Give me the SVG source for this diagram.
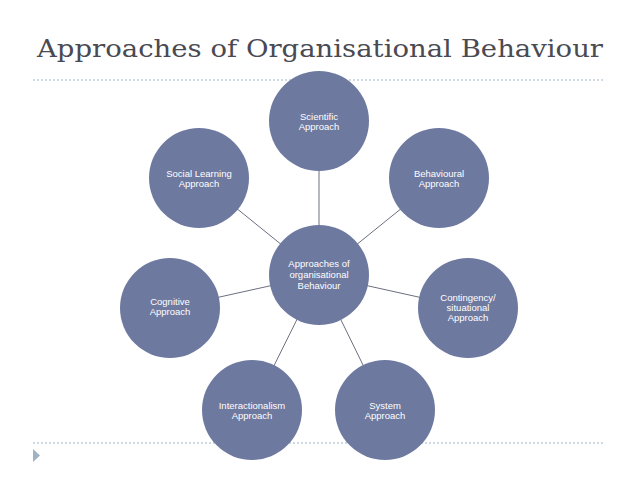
<svg xmlns="http://www.w3.org/2000/svg" width="638" height="479" viewBox="0 0 638 479">
<style>
.n{fill:#6e79a0}
.t{fill:#fff;font-family:"Liberation Sans",Arial,sans-serif;font-size:9.5px;text-anchor:middle}
.c{stroke:#6b7080;stroke-width:1}
.d{stroke:#9fb3c4;stroke-width:1;stroke-dasharray:2,2}
</style>
<rect width="638" height="479" fill="#fff"/>
<text x="37" y="57" font-family="DejaVu Serif,serif" font-size="25" fill="#4a4a52" textLength="566" lengthAdjust="spacingAndGlyphs">Approaches of Organisational Behaviour</text>
<line class="d" x1="33" y1="80" x2="605" y2="80"/>
<line class="d" x1="33" y1="443" x2="605" y2="443"/>
<polygon points="33,449 40,455.5 33,462" fill="#9fb3c4"/>
<g id="connectors">
<line class="c" x1="319" y1="275" x2="319" y2="121"/>
<line class="c" x1="319" y1="275" x2="439" y2="178"/>
<line class="c" x1="319" y1="275" x2="468" y2="308"/>
<line class="c" x1="319" y1="275" x2="385" y2="410"/>
<line class="c" x1="319" y1="275" x2="252" y2="410"/>
<line class="c" x1="319" y1="275" x2="170" y2="308"/>
<line class="c" x1="319" y1="275" x2="199" y2="178"/>
</g>
<g id="center"><circle class="n" cx="319" cy="275" r="50"/><text class="t" y="267"><tspan x="319">Approaches of</tspan><tspan x="319" dy="11">organisational</tspan><tspan x="319" dy="11">Behaviour</tspan></text></g>
<g id="scientific"><circle class="n" cx="319" cy="121" r="50"/><text class="t" y="120"><tspan x="319">Scientific</tspan><tspan x="319" dy="10">Approach</tspan></text></g>
<g id="behavioural"><circle class="n" cx="439" cy="178" r="50"/><text class="t" y="177"><tspan x="439">Behavioural</tspan><tspan x="439" dy="10">Approach</tspan></text></g>
<g id="contingency"><circle class="n" cx="468" cy="308" r="50"/><text class="t" y="301"><tspan x="468">Contingency/</tspan><tspan x="468" dy="10">situational</tspan><tspan x="468" dy="10">Approach</tspan></text></g>
<g id="system"><circle class="n" cx="385" cy="410" r="50"/><text class="t" y="409"><tspan x="385">System</tspan><tspan x="385" dy="10">Approach</tspan></text></g>
<g id="interactionalism"><circle class="n" cx="252" cy="410" r="50"/><text class="t" y="409"><tspan x="252">Interactionalism</tspan><tspan x="252" dy="10">Approach</tspan></text></g>
<g id="cognitive"><circle class="n" cx="170" cy="308" r="50"/><text class="t" y="305"><tspan x="170">Cognitive</tspan><tspan x="170" dy="10">Approach</tspan></text></g>
<g id="social"><circle class="n" cx="199" cy="178" r="50"/><text class="t" y="177"><tspan x="199">Social Learning</tspan><tspan x="199" dy="10">Approach</tspan></text></g>
</svg>
